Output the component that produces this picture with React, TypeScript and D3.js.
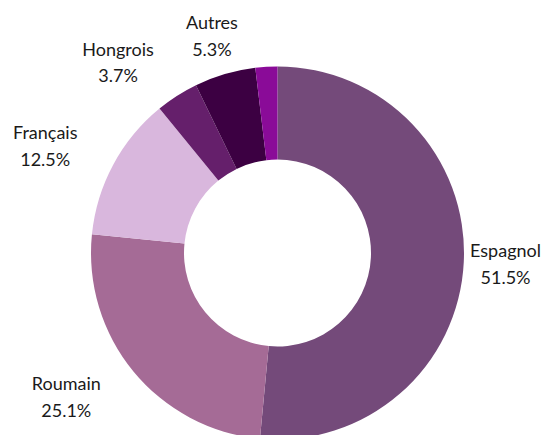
import React from "react";
import * as d3 from "d3";

const categories = ["Espagnol", "Roumain", "Français", "Hongrois", "Autres", ""];
const values = [51.5, 25.1, 12.5, 3.7, 5.3, 1.9];
const labels = ["51.5%", "25.1%", "12.5%", "3.7%", "5.3%", ""];
const colors = ["#744a7a", "#a56b96", "#d9b7dd", "#651f6b", "#3c0042", "#8a0b98"];

const W = 544;
const H = 435;
const cx = 277.5;
const cy = 253;
const R = 186.5;
const r0 = 93.5;
const fontSize = 18;
const lineGap = 26.5;
const capH = 13.3;

// horizontal nudges for labels (layout only)
const labelNudge: Record<string, number> = {
  Espagnol: 0,
  Roumain: -25,
  Français: -22,
  Hongrois: -29,
  Autres: 0,
};

type Datum = { name: string; value: number; label: string; color: string };

export default function App() {
  const data: Datum[] = categories.map((c, i) => ({
    name: c,
    value: values[i],
    label: labels[i],
    color: colors[i],
  }));
  const pie = d3
    .pie<Datum>()
    .sort(null)
    .value((d) => d.value)
    .startAngle(0)
    .endAngle(2 * Math.PI);
  const arcs = pie(data);
  const arc = d3.arc<d3.PieArcDatum<Datum>>().innerRadius(r0).outerRadius(R);

  const ctx = document.createElement("canvas").getContext("2d");
  const measure = (s: string) => {
    if (!ctx) return s.length * fontSize * 0.5;
    ctx.font = `${fontSize}px Lato`;
    return ctx.measureText(s).width;
  };

  const g = 20;
  const blockH = 40;

  return (
    <svg
      width={W}
      height={H}
      style={{ position: "absolute", left: 0, top: 0, display: "block" }}
      fontFamily="Lato, 'Open Sans', sans-serif"
    >
      <rect width={W} height={H} fill="#ffffff" />
      <g transform={`translate(${cx},${cy})`}>
        {arcs.map((a, i) => (
          <path key={i} d={arc(a) || ""} fill={a.data.color} />
        ))}
      </g>
      {arcs.map((a, i) => {
        if (!a.data.name) return null;
        const th = (a.startAngle + a.endAngle) / 2;
        const s = Math.sin(th);
        const c = -Math.cos(th);
        const w = Math.max(measure(a.data.name), measure(a.data.label));
        let x = cx + (R + g) * s + (w / 2) * s + (labelNudge[a.data.name] || 0);
        const y = cy + (R + g) * c + (blockH / 2) * c;
        x = Math.min(x, W - 3 - w / 2);
        x = Math.max(x, 3 + w / 2);
        const b1 = y - (lineGap - capH) / 2;
        return (
          <text
            key={"l" + i}
            textAnchor="middle"
            fontSize={fontSize}
            fill="#1a1a1a"
          >
            <tspan x={x} y={b1}>
              {a.data.name}
            </tspan>
            <tspan x={x} y={b1 + lineGap}>
              {a.data.label}
            </tspan>
          </text>
        );
      })}
    </svg>
  );
}
